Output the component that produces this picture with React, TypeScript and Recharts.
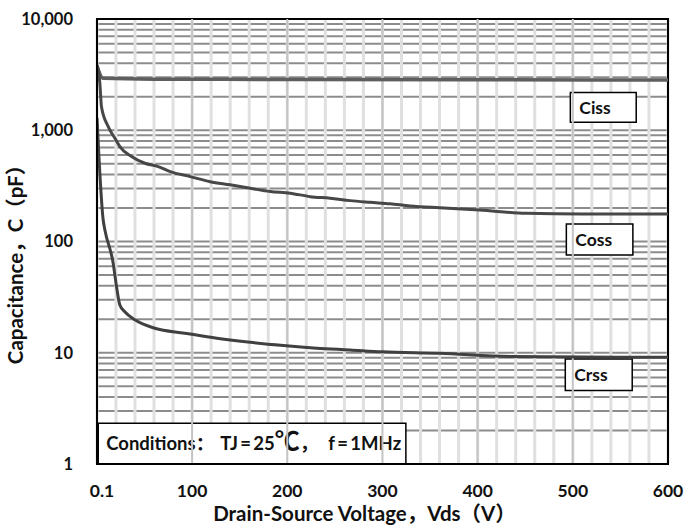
import React from 'react';
import {
  LineChart, Line, XAxis, YAxis, CartesianGrid, ReferenceArea, ReferenceLine, Label,
} from 'recharts';

const FONT = "Lato, 'Noto Sans CJK SC', sans-serif";

// Ciss
const cissV = [0.1, 6.6, 60, 200, 400, 600];
const cissC = [3800, 2930, 2880, 2860, 2840, 2830];

// Coss
const cossV = [0.1, 3.1, 4.8, 11.9, 18.9, 24.1, 36.3, 50.4, 64.4, 77, 98, 119, 140, 161, 182, 203, 224, 245, 266, 287, 308, 329, 360, 402, 451, 510, 600];
const cossC = [3860, 2640, 1630, 1077, 847, 713, 580, 505, 471, 425, 383, 345, 323, 301, 281, 272, 253, 245, 233, 225, 218, 209, 201, 192, 179, 177, 177];

// Crss
const crssV = [0.1, 6.6, 8.4, 17.1, 20.6, 24.1, 29.3, 39.9, 60.9, 92.3, 126, 161, 196, 231, 266, 300, 360, 434, 600];
const crssC = [1290, 156, 127, 63.8, 39.4, 26.9, 23.4, 19.8, 16.6, 15.0, 13.5, 12.4, 11.6, 11.0, 10.6, 10.2, 9.9, 9.25, 9.1];

const xTicks = [0.1, 20, 40, 60, 80, 100, 120, 140, 160, 180, 200, 220, 240, 260, 280, 300, 320, 340, 360, 380, 400, 420, 440, 460, 480, 500, 520, 540, 560, 580, 600];
const xMajor = [100, 200, 300, 400, 500];
const yTicks = [
  1, 2, 3, 4, 5, 6, 7, 8, 9,
  10, 20, 30, 40, 50, 60, 70, 80, 90,
  100, 200, 300, 400, 500, 600, 700, 800, 900,
  1000, 2000, 3000, 4000, 5000, 6000, 7000, 8000, 9000,
  10000,
];
const yDecades = [1, 10, 100, 1000, 10000];

const xTitle = 'Drain-Source Voltage，Vds（V）';
const yTitle = 'Capacitance，C（pF）';

const toRows = (vs: number[], cs: number[]) => vs.map((v, i) => ({ v, c: cs[i] }));
const ciss = toRows(cissV, cissC);
const coss = toRows(cossV, cossC);
const crss = toRows(crssV, crssC);

const fmtX = (v: number) => (v === 0.1 ? '0.1' : v % 100 === 0 ? String(v) : '');
const fmtY = (v: number) => (yDecades.includes(v) ? v.toLocaleString('en-US') : '');

const XTick = (props: any) => {
  const { x, y, payload } = props;
  const label = fmtX(payload.value);
  if (!label) return null;
  const dx = payload.value === 0.1 ? 5 : 0;
  return (
    <text x={x + dx} y={y} dy="0.71em" textAnchor="middle" fontFamily={FONT} fontWeight={700} fontSize={17.5} fill="#111">
      {label}
    </text>
  );
};

const XTitle = (props: any) => {
  const vb = props.viewBox || {};
  return (
    <text x={vb.x + vb.width / 2 - 18} y={vb.y + 57} textAnchor="middle" fontFamily={FONT} fontWeight={700} fontSize={20.5} fill="#111">
      {xTitle}
    </text>
  );
};

const YTitle = (props: any) => {
  const vb = props.viewBox || {};
  const cx = 23;
  const cy = vb.y + vb.height / 2 + 18;
  return (
    <text x={cx} y={cy} transform={`rotate(-90 ${cx} ${cy})`} textAnchor="middle" fontFamily={FONT} fontWeight={700} fontSize={20.5} fill="#111">
      {yTitle}
    </text>
  );
};

const CondLabel = (props: any) => {
  const vb = props.viewBox || {};
  return (
    <text x={vb.x + 8} y={vb.y + vb.height / 2 + 6} fontFamily={FONT} fontWeight={700} fontSize={18.5} fill="#111">
      <tspan>Conditions：</tspan>
      <tspan dx={6}>{'TJ\u2009=\u200925'}</tspan>
      <tspan fontSize={25}>℃</tspan>
      <tspan>，</tspan>
      <tspan dx={10}>{'f\u2009=\u20091MHz'}</tspan>
    </text>
  );
};

const boxLabel = (value: string) => ({
  value,
  position: 'insideLeft' as const,
  offset: 9,
  fill: '#111',
  fontSize: 17.5,
  fontWeight: 700,
  fontFamily: FONT,
});

export default function App() {
  return (
    <div style={{ position: 'absolute', left: 0, top: 0, background: '#fff' }}>
      <LineChart width={684} height={527} margin={{ top: 19, right: 16, bottom: 0, left: 0 }}>
        <CartesianGrid vertical={false} stroke="#8c8c8c" strokeWidth={2} />
        <CartesianGrid horizontal={false} stroke="#e0e0e0" strokeWidth={3} />
        {xMajor.map((x) => (
          <ReferenceLine key={x} x={x} stroke="#c4c4c4" strokeWidth={2} />
        ))}
        <XAxis
          type="number"
          dataKey="v"
          domain={[0.1, 600]}
          ticks={xTicks}
          interval={0}
          tick={<XTick />}
          height={63}
          tickLine={false}
          tickSize={6}
          tickMargin={15}
          axisLine={{ stroke: '#000', strokeWidth: 2 }}
          allowDataOverflow
        >
          <Label content={<XTitle />} />
        </XAxis>
        <YAxis
          type="number"
          scale="log"
          domain={[1, 10000]}
          ticks={yTicks}
          interval={0}
          tickFormatter={fmtY}
          width={97}
          tickLine={false}
          tickSize={6}
          tickMargin={18}
          axisLine={{ stroke: '#000', strokeWidth: 2 }}
          tick={{ fill: '#111', fontSize: 16.5, fontWeight: 700, fontFamily: FONT }}
          allowDataOverflow
        >
          <Label content={<YTitle />} />
        </YAxis>
        <Line data={ciss} dataKey="c" type="monotone" stroke="#5e5e5e" strokeWidth={3.5} dot={false} isAnimationActive={false} />
        <Line data={coss} dataKey="c" type="monotone" stroke="#474747" strokeWidth={3} dot={false} isAnimationActive={false} />
        <Line data={crss} dataKey="c" type="monotone" stroke="#404040" strokeWidth={3} dot={false} isAnimationActive={false} />
        <ReferenceArea x1={497.4} x2={566.6} y1={1180} y2={2190} fill="#fff" fillOpacity={1} stroke="#000" strokeWidth={1.5} label={boxLabel('Ciss')} />
        <ReferenceArea x1={493.2} x2={563.1} y1={75.8} y2={144} fill="#fff" fillOpacity={1} stroke="#000" strokeWidth={1.5} label={boxLabel('Coss')} />
        <ReferenceArea x1={492.1} x2={562.4} y1={4.57} y2={8.77} fill="#fff" fillOpacity={1} stroke="#000" strokeWidth={1.5} label={boxLabel('Crss')} />
        <ReferenceArea x1={1.4} x2={324.6} y1={1} y2={2.33} fill="#fff" fillOpacity={1} stroke="#000" strokeWidth={1.5} label={<CondLabel />} />
        <ReferenceArea x1={0.1} x2={600} y1={1} y2={10000} fill="none" stroke="#000" strokeWidth={2} />
      </LineChart>
    </div>
  );
}
